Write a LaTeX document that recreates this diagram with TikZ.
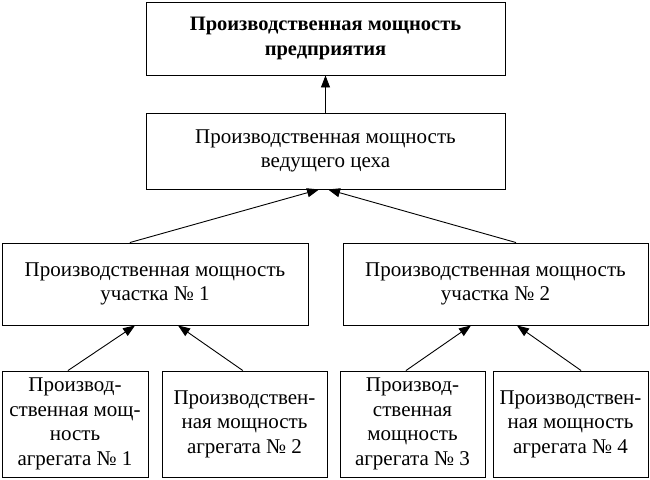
\documentclass[tikz,border=0pt]{standalone}
\usepackage{fontspec}
\setmainfont{Liberation Serif}
\usetikzlibrary{arrows.meta,calc}
\begin{document}
\begin{tikzpicture}[x=1pt,y=-1pt,
  box/.style={draw,line width=0.9pt,rectangle,align=center,inner sep=0pt,
    font=\fontsize{21}{24.5}\selectfont},
  arr/.style={line width=0.9pt,-{Triangle[length=12pt,width=9pt]}}]
\useasboundingbox (0,0) rectangle (650,479);
\node[box,minimum width=359pt,minimum height=73pt,font=\fontsize{20.5}{24.5}\selectfont\bfseries] (top) at (325.5,38.5) {Производственная мощность\\предприятия};
\node[box,minimum width=359pt,minimum height=76pt] (mid) at (325.5,151) {Производственная мощность\\ведущего цеха};
\node[box,minimum width=306pt,minimum height=82pt] (L) at (155,284) {Производственная мощность\\участка № 1};
\node[box,minimum width=305pt,minimum height=82pt] (R) at (495.5,284) {Производственная мощность\\участка № 2};
\node[box,minimum width=146pt,minimum height=106pt] (a1) at (75,424) {Производ-\\ственная мощ-\\ность\\агрегата № 1};
\node[box,minimum width=165pt,minimum height=106pt] (a2) at (244.5,424) {Производствен-\\ная мощность\\агрегата № 2};
\node[box,minimum width=145pt,minimum height=106pt] (a3) at (412.5,424) {Производ-\\ственная\\мощность\\агрегата № 3};
\node[box,minimum width=155pt,minimum height=106pt] (a4) at (570.5,424) {Производствен-\\ная мощность\\агрегата № 4};
\draw[arr] (mid.north) -- (top.south);
\draw[arr] ($(L.north west)!0.418!(L.north east)$) -- ($(mid.south west)!0.482!(mid.south east)$);
\draw[arr] ($(R.north west)!0.567!(R.north east)$) -- ($(mid.south west)!0.507!(mid.south east)$);
\draw[arr] ($(a1.north west)!0.452!(a1.north east)$) -- ($(L.south west)!0.435!(L.south east)$);
\draw[arr] ($(a2.north west)!0.49!(a2.north east)$) -- ($(L.south west)!0.575!(L.south east)$);
\draw[arr] ($(a3.north west)!0.455!(a3.north east)$) -- ($(R.south west)!0.42!(R.south east)$);
\draw[arr] ($(a4.north west)!0.568!(a4.north east)$) -- ($(R.south west)!0.57!(R.south east)$);
\end{tikzpicture}
\end{document}
